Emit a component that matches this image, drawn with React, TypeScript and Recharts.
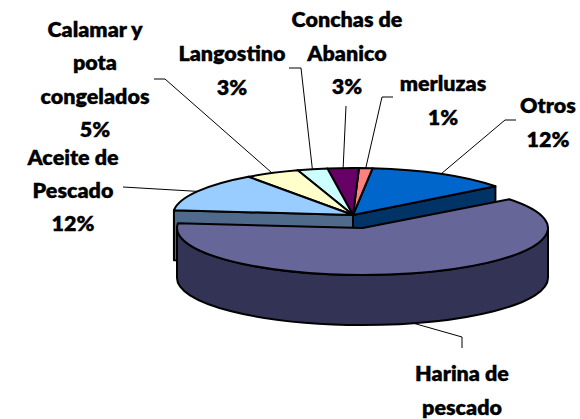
import { PieChart, Pie } from "recharts"

const categories = ["Otros", "merluzas", "Conchas de Abanico", "Langostino", "Calamar y pota congelados", "Aceite de Pescado", "Harina de pescado"]
// slice sizes
const values = [12.8, 1.2, 2.8, 2.7, 4.9, 13.5, 62.1]
const nameLines = [
  ["Otros"],
  ["merluzas"],
  ["Conchas de", "Abanico"],
  ["Langostino"],
  ["Calamar y", "pota", "congelados"],
  ["Aceite de", "Pescado"],
  ["Harina de", "pescado"],
]
// the last percentage falls below the bottom edge of the picture
const percentLabels = ["12%", "1%", "3%", "3%", "5%", "12%", ""]
const topColors = ["#0066CC", "#FF8080", "#660066", "#CCFFFF", "#FFFFCC", "#99CCFF", "#666699"]
const sideColors = ["#003366", "#804040", "#330033", "#668080", "#808066", "#4F6A8A", "#333355"]

// label layout: text centre, first baseline, leader elbow points
const labelX = [548, 443, 347, 232, 95, 73, 462]
const labelY = [113, 91, 27, 61, 37, 165, 381]
const lineGap = [33.6, 33.6, 33.6, 33.6, 33.4, 33, 33.6]
const leaderEnds = [
  [[505, 120], [516, 120]],
  [[382, 97], [393, 97]],
  [[346, 106]],
  [[301, 68], [289, 68]],
  [[165, 79], [154, 79]],
  [[123, 187]],
  [[462, 337], [462, 348]],
]

const WIDTH = 580
const HEIGHT = 419
const CX = 353
const CY = 215
const RX = 180
const RY = 47
const DEPTH = 50
const START = 37.7
const FONT = "Lato, Carlito, sans-serif"
// the last slice is pulled out of the pie
const HARINA = 6
const HARINA_DX = 9.5
const HARINA_DY = 13
const HARINA_RX = 185.5

const data = categories.map((name, i) => ({ name, value: values[i], fill: topColors[i] }))

const geom = (i: number) =>
  i === HARINA
    ? { x: CX + HARINA_DX, y: CY + HARINA_DY, a: HARINA_RX, b: RY }
    : { x: CX, y: CY, a: RX, b: RY }

const pt = (g: any, deg: number) => {
  const t = (deg * Math.PI) / 180
  return [g.x + g.a * Math.cos(t), g.y - g.b * Math.sin(t)]
}

function Slice3D(props: any) {
  const { startAngle, endAngle, name, payload } = props
  const i = categories.indexOf(name ?? payload?.name)
  const g = geom(i)
  const s = pt(g, startAngle)
  const e = pt(g, endAngle)
  const large = endAngle - startAngle > 180 ? 1 : 0
  const common = { stroke: "#000", strokeWidth: 2, strokeLinejoin: "round" as const }

  const face = (p: number[]) => (
    <path
      d={`M${g.x},${g.y} L${p[0]},${p[1]} L${p[0]},${p[1] + DEPTH} L${g.x},${g.y + DEPTH} Z`}
      fill={sideColors[i]}
      {...common}
    />
  )

  // outer wall only shows on the front half
  const wallFrom = Math.max(startAngle, 180)
  const wallTo = Math.min(endAngle, 360)
  let wall = null
  if (wallTo > wallFrom) {
    const a = pt(g, wallFrom)
    const b = pt(g, wallTo)
    const big = wallTo - wallFrom > 180 ? 1 : 0
    wall = (
      <path
        d={`M${a[0]},${a[1]} A${g.a},${g.b} 0 ${big} 0 ${b[0]},${b[1]} L${b[0]},${b[1] + DEPTH} A${g.a},${g.b} 0 ${big} 1 ${a[0]},${a[1] + DEPTH} Z`}
        fill={sideColors[i]}
        {...common}
      />
    )
  }

  return (
    <g>
      {i === 0 && face(s)}
      {i === HARINA - 1 && face(e)}
      {wall}
      <path
        d={`M${g.x},${g.y} L${s[0]},${s[1]} A${g.a},${g.b} 0 ${large} 0 ${e[0]},${e[1]} Z`}
        fill={topColors[i]}
        {...common}
      />
    </g>
  )
}

function SliceLabel(props: any) {
  const { midAngle, name, payload } = props
  const i = categories.indexOf(name ?? payload?.name)
  const g = geom(i)
  const anchor = pt(g, midAngle)
  // front slices hang the leader off the bottom of the wall
  const y0 = Math.sin((midAngle * Math.PI) / 180) < 0 ? anchor[1] + DEPTH : anchor[1]
  const points = [[anchor[0], y0], ...leaderEnds[i]].map((p) => p.join(",")).join(" ")
  const lines = percentLabels[i] ? [...nameLines[i], percentLabels[i]] : nameLines[i]
  return (
    <g>
      <polyline points={points} fill="none" stroke="#000" strokeWidth={1} />
      {lines.map((line, k) => (
        <text
          key={line}
          x={labelX[i]}
          y={labelY[i] + k * lineGap[i]}
          textAnchor="middle"
          fontFamily={FONT}
          fontWeight={800}
          fontSize={21.5}
          stroke="#000"
          strokeWidth={0.3}
          fill="#000"
        >
          {line}
        </text>
      ))}
    </g>
  )
}

export default function App() {
  return (
    <div style={{ position: "absolute", left: 0, top: 0, width: WIDTH, height: HEIGHT, overflow: "hidden", background: "#fff" }}>
      <PieChart width={WIDTH} height={HEIGHT} margin={{ top: 0, right: 0, bottom: 0, left: 0 }}>
        <Pie
          data={data}
          dataKey="value"
          nameKey="name"
          cx={CX}
          cy={CY}
          outerRadius={RX}
          startAngle={START}
          endAngle={START + 360}
          shape={Slice3D}
          label={SliceLabel}
          labelLine={false}
          isAnimationActive={false}
        />
      </PieChart>
    </div>
  )
}
